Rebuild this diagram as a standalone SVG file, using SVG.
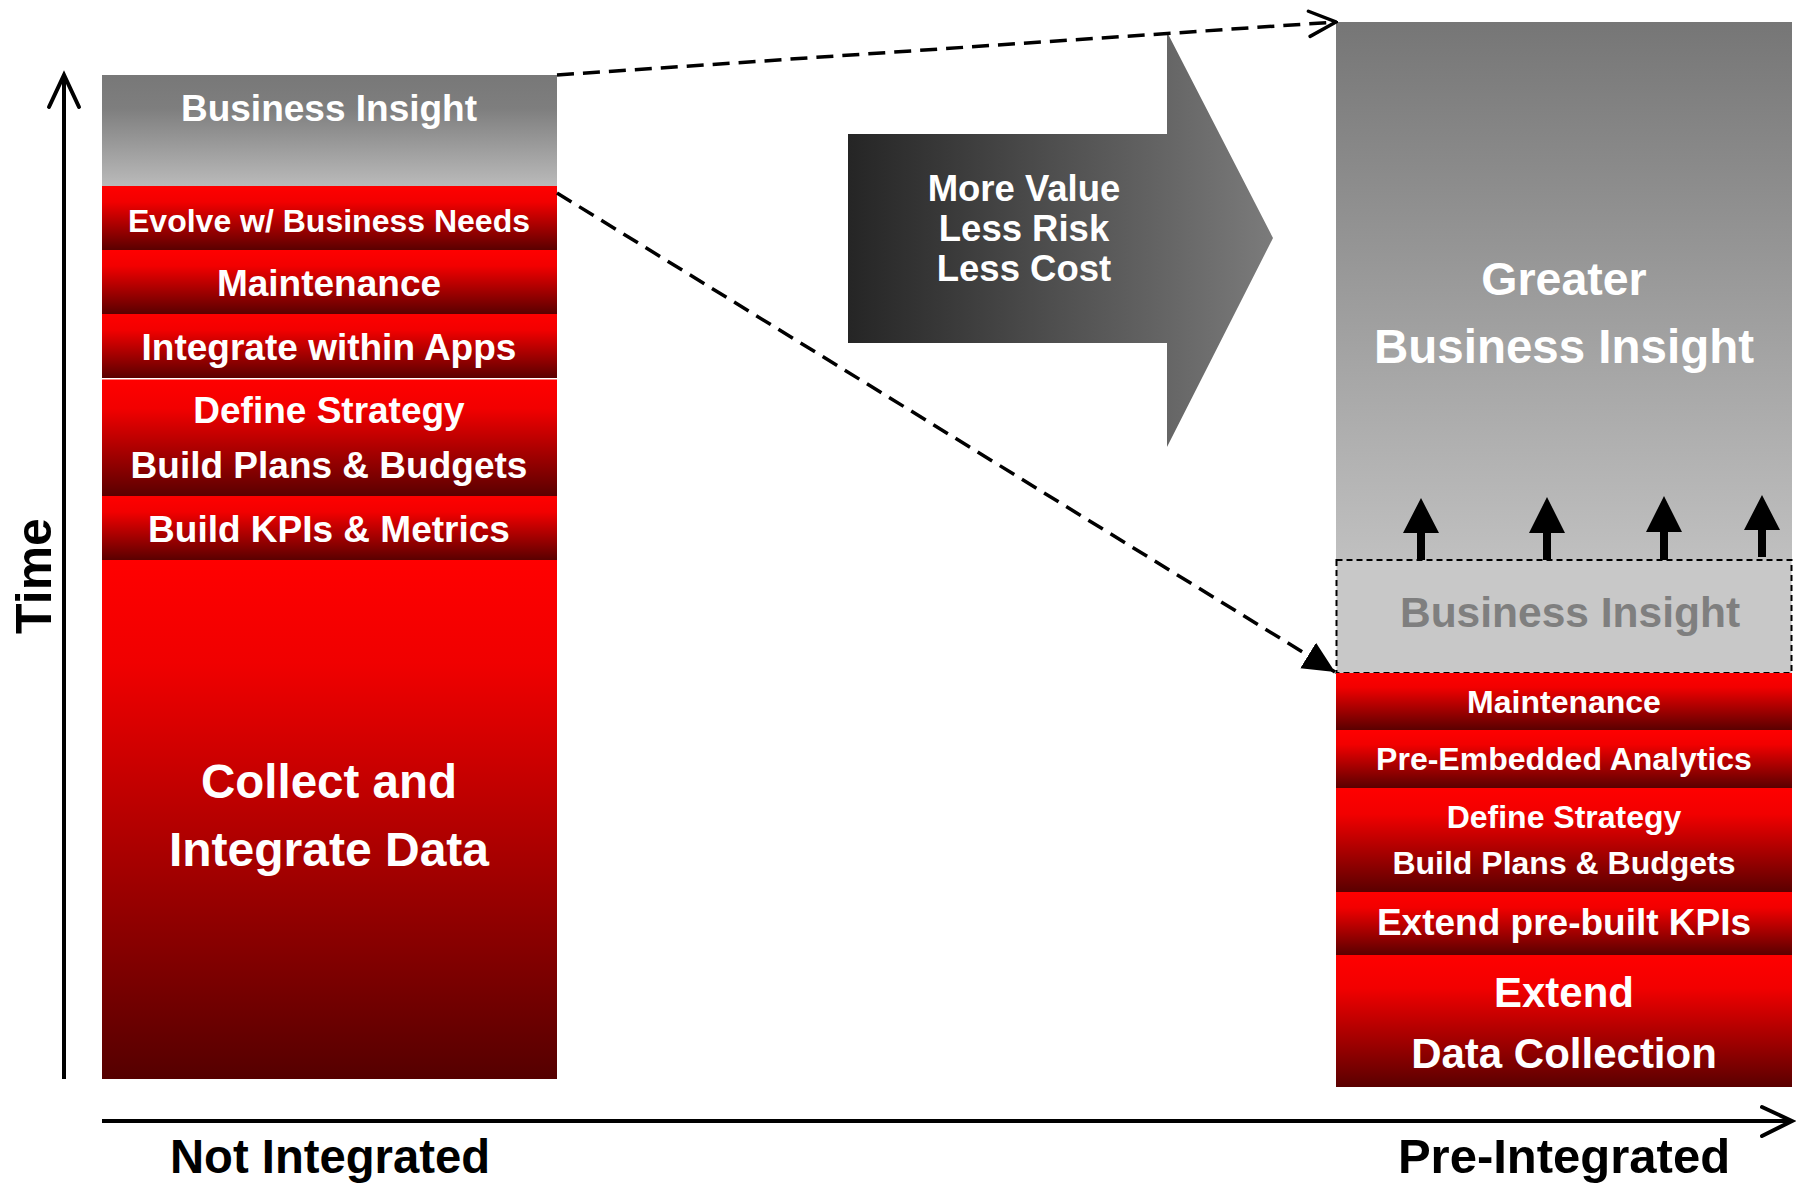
<svg xmlns="http://www.w3.org/2000/svg" width="1796" height="1183" viewBox="0 0 1796 1183">
<defs>
  <linearGradient id="red" x1="0" y1="0" x2="0" y2="1">
    <stop offset="0" stop-color="#ff0000"/>
    <stop offset="0.25" stop-color="#f20000"/>
    <stop offset="1" stop-color="#5a0000"/>
  </linearGradient>
  <linearGradient id="redBig" x1="0" y1="0" x2="0" y2="1">
    <stop offset="0" stop-color="#ff0000"/>
    <stop offset="0.2" stop-color="#f00000"/>
    <stop offset="1" stop-color="#550000"/>
  </linearGradient>
  <linearGradient id="grayL" x1="0" y1="0" x2="0" y2="1">
    <stop offset="0" stop-color="#787878"/>
    <stop offset="0.3" stop-color="#7e7e7e"/>
    <stop offset="1" stop-color="#bababa"/>
  </linearGradient>
  <linearGradient id="grayR" x1="0" y1="0" x2="0" y2="1">
    <stop offset="0" stop-color="#767676"/>
    <stop offset="1" stop-color="#c0c0c0"/>
  </linearGradient>
  <linearGradient id="bigArrow" gradientUnits="userSpaceOnUse" x1="848" y1="0" x2="1273" y2="0">
    <stop offset="0" stop-color="#252525"/>
    <stop offset="1" stop-color="#7b7b7b"/>
  </linearGradient>
  <marker id="openHead" viewBox="0 0 20 20" refX="19" refY="10" markerWidth="9" markerHeight="9" markerUnits="strokeWidth" orient="auto">
    <path d="M2,2 L19,10 L2,18" fill="none" stroke="#000" stroke-width="2.2" stroke-linecap="round" stroke-linejoin="miter"/>
  </marker>
  <marker id="solidHead" viewBox="0 0 20 20" refX="20" refY="10" markerWidth="9" markerHeight="9" markerUnits="strokeWidth" orient="auto">
    <path d="M0,0.5 L20,10 L0,19.5 Z" fill="#000"/>
  </marker>
</defs>
<style>
  text { font-family: "Liberation Sans", Arial, sans-serif; font-weight: bold; text-anchor: middle; }
  .w { fill: #ffffff; }
  .k { fill: #000000; }
  .axis { stroke: #000; stroke-width: 4; fill: none; }
  .dash { stroke: #000; stroke-width: 3.5; fill: none; stroke-dasharray: 17 9; }
</style>

<!-- Axes -->
<g id="axes">
  <line class="axis" x1="64" y1="1079" x2="64" y2="76"/>
  <path class="axis" d="M49,107 L64,75 L79,107" stroke-linecap="round" stroke-linejoin="miter"/>
  <line class="axis" x1="102" y1="1121" x2="1790" y2="1121"/>
  <path class="axis" d="M1762,1107 L1792,1121 L1762,1136" stroke-linecap="round"/>
  <text class="k" x="0" y="0" font-size="50" transform="translate(51,576) rotate(-90)">Time</text>
  <text class="k" x="330" y="1173" font-size="48" textLength="320" lengthAdjust="spacingAndGlyphs">Not Integrated</text>
  <text class="k" x="1564" y="1173" font-size="49">Pre-Integrated</text>
</g>

<!-- Left column -->
<g id="left-business-insight">
  <rect x="102" y="75" width="455" height="111" fill="url(#grayL)"/>
  <text class="w" x="329" y="121" font-size="37">Business Insight</text>
</g>
<g id="left-evolve">
  <rect x="102" y="186" width="455" height="64" fill="url(#red)"/>
  <text class="w" x="329" y="232" font-size="32">Evolve w/ Business Needs</text>
</g>
<g id="left-maintenance">
  <rect x="102" y="250" width="455" height="64" fill="url(#red)"/>
  <text class="w" x="329" y="296" font-size="37">Maintenance</text>
</g>
<g id="left-integrate-apps">
  <rect x="102" y="314" width="455" height="64" fill="url(#red)"/>
  <text class="w" x="329" y="360" font-size="37">Integrate within Apps</text>
</g>
<g id="left-define-strategy">
  <rect x="102" y="379.5" width="455" height="116.5" fill="url(#red)"/>
  <text class="w" x="329" y="423" font-size="37">Define Strategy</text>
  <text class="w" x="329" y="478" font-size="37">Build Plans &amp; Budgets</text>
</g>
<g id="left-kpis">
  <rect x="102" y="496" width="455" height="64" fill="url(#red)"/>
  <text class="w" x="329" y="542" font-size="37">Build KPIs &amp; Metrics</text>
</g>
<g id="left-collect">
  <rect x="102" y="560" width="455" height="519" fill="url(#redBig)"/>
  <text class="w" x="329" y="798" font-size="47.5">Collect and</text>
  <text class="w" x="329" y="866" font-size="48">Integrate Data</text>
</g>

<!-- Middle arrow -->
<g id="value-arrow">
  <polygon points="848,134 1167,134 1167,32 1273,238 1167,447 1167,343 848,343" fill="url(#bigArrow)"/>
  <text class="w" x="1024" y="201" font-size="36.5">More Value</text>
  <text class="w" x="1024" y="241" font-size="36.5">Less Risk</text>
  <text class="w" x="1024" y="281" font-size="36.5">Less Cost</text>
</g>

<!-- Right column -->
<g id="right-greater-insight">
  <rect x="1336" y="22" width="456" height="538" fill="url(#grayR)"/>
  <text class="w" x="1564" y="295" font-size="46.5">Greater</text>
  <text class="w" x="1564" y="363" font-size="47.5">Business Insight</text>
</g>
<g id="right-business-insight">
  <rect x="1336.5" y="560" width="455" height="113" fill="#c8c8c8" stroke="#000" stroke-width="2" stroke-dasharray="6 4"/>
  <text x="1570" y="627" font-size="42.5" fill="#7f7f7f">Business Insight</text>
</g>
<g id="up-arrows" fill="#000">
  <polygon points="1417,560 1425,560 1425,533 1439,533 1421,498 1403,533 1417,533"/>
  <polygon points="1543,560 1551,560 1551,533 1565,533 1547,497 1529,533 1543,533"/>
  <polygon points="1660,560 1668,560 1668,532 1682,532 1664,496 1646,532 1660,532"/>
  <polygon points="1758,557 1766,557 1766,530 1780,530 1762,495 1744,530 1758,530"/>
</g>
<g id="right-maintenance">
  <rect x="1336" y="673" width="456" height="57" fill="url(#red)"/>
  <text class="w" x="1564" y="713" font-size="32">Maintenance</text>
</g>
<g id="right-pre-embedded">
  <rect x="1336" y="730" width="456" height="58" fill="url(#red)"/>
  <text class="w" x="1564" y="770" font-size="32">Pre-Embedded Analytics</text>
</g>
<g id="right-define-strategy">
  <rect x="1336" y="788" width="456" height="104" fill="url(#red)"/>
  <text class="w" x="1564" y="828" font-size="32">Define Strategy</text>
  <text class="w" x="1564" y="874" font-size="32">Build Plans &amp; Budgets</text>
</g>
<g id="right-extend-kpis">
  <rect x="1336" y="892" width="456" height="63" fill="url(#red)"/>
  <text class="w" x="1564" y="935" font-size="37">Extend pre-built KPIs</text>
</g>
<g id="right-extend-data">
  <rect x="1336" y="955" width="456" height="132" fill="url(#red)"/>
  <text class="w" x="1564" y="1007" font-size="42">Extend</text>
  <text class="w" x="1564" y="1068" font-size="42">Data Collection</text>
</g>

<!-- Connectors -->
<g id="connectors">
  <line class="dash" x1="557" y1="75" x2="1336" y2="22" marker-end="url(#openHead)"/>
  <line class="dash" x1="557" y1="193" x2="1335" y2="672" marker-end="url(#solidHead)"/>
</g>
</svg>
